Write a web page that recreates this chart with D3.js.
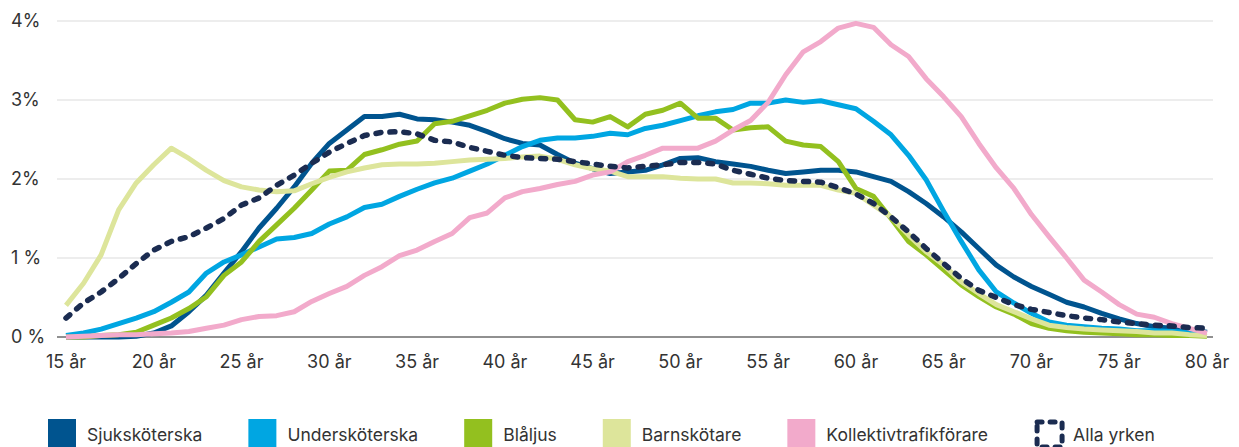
<!DOCTYPE html>
<html>
<head>
<meta charset="utf-8">
<script src="https://cdn.jsdelivr.net/npm/d3@7"></script>
<style>
  html, body { margin: 0; padding: 0; background: #fff; }
  svg { display: block; font-family: Inter, "Noto Sans", sans-serif; }
</style>
</head>
<body>
<svg id="chart" width="1239" height="447"></svg>
<script>
// ages 15..80
const ages = d3.range(15, 81);

const sjukskoterska = [
  0, 0, 0, 0, 0.01, 0.05, 0.14, 0.32, 0.53, 0.81, 1.08,
  1.38, 1.63, 1.90, 2.20, 2.45, 2.62, 2.79, 2.79, 2.82, 2.76, 2.75,
  2.72, 2.68, 2.60, 2.51, 2.45, 2.43, 2.31, 2.20, 2.13, 2.07, 2.09, 2.11,
  2.18, 2.26, 2.27, 2.22, 2.19, 2.16, 2.11, 2.07, 2.09, 2.11, 2.11,
  2.09, 2.03, 1.97, 1.84, 1.69, 1.52, 1.33, 1.12, 0.91, 0.76, 0.64,
  0.54, 0.44, 0.38, 0.30, 0.23, 0.17, 0.13, 0.11, 0.09, 0.06
];
const underskoterska = [
  0.02, 0.05, 0.10, 0.17, 0.24, 0.32, 0.44, 0.57, 0.81, 0.95, 1.04,
  1.14, 1.24, 1.26, 1.31, 1.43, 1.52, 1.64, 1.68, 1.78, 1.87, 1.95,
  2.01, 2.10, 2.19, 2.30, 2.41, 2.49, 2.52, 2.52, 2.54, 2.58, 2.56, 2.64,
  2.68, 2.74, 2.80, 2.85, 2.88, 2.96, 2.96, 3.00, 2.97, 2.99, 2.94,
  2.89, 2.73, 2.56, 2.30, 1.99, 1.59, 1.21, 0.85, 0.57, 0.43, 0.30,
  0.19, 0.15, 0.13, 0.11, 0.10, 0.08, 0.08, 0.07, 0.06, 0.05
];
const blaljus = [
  0, 0, 0.02, 0.03, 0.06, 0.15, 0.24, 0.36, 0.51, 0.78, 0.95,
  1.21, 1.42, 1.63, 1.86, 2.10, 2.11, 2.31, 2.37, 2.44, 2.48, 2.70,
  2.73, 2.80, 2.87, 2.96, 3.01, 3.03, 3.00, 2.75, 2.72, 2.79, 2.66, 2.82,
  2.87, 2.96, 2.77, 2.77, 2.62, 2.65, 2.66, 2.48, 2.43, 2.41, 2.22,
  1.88, 1.78, 1.50, 1.21, 1.04, 0.85, 0.66, 0.51, 0.38, 0.29, 0.17,
  0.11, 0.08, 0.06, 0.05, 0.04, 0.03, 0.03, 0.02, 0.02, 0.01
];
const barnskotare = [
  0.40, 0.68, 1.04, 1.61, 1.95, 2.18, 2.39, 2.26, 2.11, 1.98, 1.90,
  1.86, 1.84, 1.85, 1.94, 2.02, 2.09, 2.14, 2.18, 2.19, 2.19, 2.20,
  2.22, 2.24, 2.25, 2.26, 2.28, 2.29, 2.25, 2.18, 2.13, 2.10, 2.03, 2.03,
  2.03, 2.01, 2.00, 2.00, 1.95, 1.95, 1.94, 1.92, 1.92, 1.92, 1.86,
  1.82, 1.67, 1.52, 1.29, 1.08, 0.91, 0.70, 0.55, 0.41, 0.32, 0.23,
  0.15, 0.12, 0.10, 0.09, 0.08, 0.07, 0.05, 0.05, 0.03, 0.02
];
const kollektivtrafik = [
  0.00, 0.01, 0.02, 0.03, 0.03, 0.04, 0.05, 0.07, 0.11, 0.15, 0.22,
  0.26, 0.27, 0.32, 0.45, 0.55, 0.64, 0.78, 0.89, 1.03, 1.10, 1.21,
  1.31, 1.51, 1.57, 1.76, 1.84, 1.88, 1.93, 1.97, 2.05, 2.09, 2.22, 2.30,
  2.39, 2.39, 2.39, 2.48, 2.62, 2.74, 2.97, 3.32, 3.61, 3.74, 3.91,
  3.97, 3.92, 3.70, 3.55, 3.27, 3.04, 2.79, 2.45, 2.14, 1.88, 1.55,
  1.27, 1.00, 0.72, 0.57, 0.41, 0.29, 0.25, 0.17, 0.11, 0.05
];
const allaYrken = [
  0.24, 0.43, 0.57, 0.74, 0.93, 1.10, 1.21, 1.27, 1.38, 1.50, 1.67,
  1.76, 1.92, 2.05, 2.20, 2.34, 2.45, 2.55, 2.59, 2.60, 2.57, 2.49,
  2.47, 2.40, 2.35, 2.30, 2.27, 2.26, 2.25, 2.22, 2.19, 2.16, 2.14, 2.16,
  2.18, 2.21, 2.21, 2.19, 2.11, 2.06, 2.01, 1.98, 1.97, 1.96, 1.89,
  1.81, 1.69, 1.52, 1.33, 1.12, 0.93, 0.74, 0.59, 0.50, 0.41, 0.35,
  0.31, 0.27, 0.24, 0.22, 0.19, 0.17, 0.15, 0.14, 0.12, 0.11
];

const seriesNames = ["Sjuksköterska", "Undersköterska", "Blåljus", "Barnskötare", "Kollektivtrafikförare", "Alla yrken"];
const seriesValues = [sjukskoterska, underskoterska, blaljus, barnskotare, kollektivtrafik, allaYrken];
const seriesColors = ["#00548f", "#00a6e2", "#93c01f", "#dde59b", "#f2aacb", "#1b2c51"];

const xTicks = d3.range(15, 81, 5);
const yTicks = [0, 1, 2, 3, 4];
const yTickLabels = ["0 %", "1 %", "2%", "3%", "4%"];

const svg = d3.select("#chart");

const x = d3.scaleLinear().domain([15, 80]).range([66, 1207]);
const y = d3.scaleLinear().domain([0, 4]).range([337, 21]);

/* grid */
svg.append("g")
  .selectAll("line")
  .data(yTicks.filter(d => d > 0))
  .join("line")
  .attr("x1", 57).attr("x2", 1213)
  .attr("y1", d => y(d)).attr("y2", d => y(d))
  .attr("stroke", "#dcdcdc")
  .attr("stroke-width", 1.2);

svg.append("line")
  .attr("x1", 57).attr("x2", 1213)
  .attr("y1", y(0)).attr("y2", y(0))
  .attr("stroke", "#6b6b6b")
  .attr("stroke-width", 1.5);

/* y labels */
svg.append("g")
  .selectAll("text")
  .data(yTicks)
  .join("text")
  .attr("x", 11)
  .attr("y", d => y(d))
  .attr("dy", "0.36em")
  .attr("font-size", 18)
  .attr("fill", "#333")
  .text((d, i) => yTickLabels[i]);

/* x labels */
svg.append("g")
  .selectAll("text")
  .data(xTicks)
  .join("text")
  .attr("x", d => x(d))
  .attr("y", 368)
  .attr("text-anchor", "middle")
  .attr("font-size", 18)
  .attr("fill", "#333")
  .text(d => `${d} år`);

/* lines */
const line = d3.line()
  .x((d, i) => x(ages[i]))
  .y(d => y(d));

seriesValues.forEach((vals, i) => {
  const dashed = i === seriesValues.length - 1;
  svg.append("path")
    .datum(vals)
    .attr("d", line)
    .attr("fill", "none")
    .attr("stroke", seriesColors[i])
    .attr("stroke-width", dashed ? 5.5 : 5)
    .attr("stroke-linejoin", "round")
    .attr("stroke-linecap", dashed ? "round" : "butt")
    .attr("stroke-dasharray", dashed ? "5 9" : null);
});

/* legend */
const legend = svg.append("g").attr("font-size", 17.5).attr("fill", "#333");
let lx = 48;
seriesNames.forEach((name, i) => {
  const g = legend.append("g").attr("transform", `translate(${lx},419)`);
  if (i === seriesNames.length - 1) {
    g.append("rect")
      .attr("x", 3).attr("y", 3).attr("width", 25).attr("height", 25)
      .attr("fill", "none")
      .attr("stroke", seriesColors[i])
      .attr("stroke-width", 5)
      .attr("stroke-linecap", "round")
      .attr("stroke-dasharray", "5 8");
  } else {
    g.append("rect")
      .attr("width", 28).attr("height", 28)
      .attr("fill", seriesColors[i]);
  }
  const t = g.append("text")
    .attr("x", 39)
    .attr("y", 22)
    .text(name);
  lx += 39 + t.node().getComputedTextLength() + 46;
});
</script>
</body>
</html>
